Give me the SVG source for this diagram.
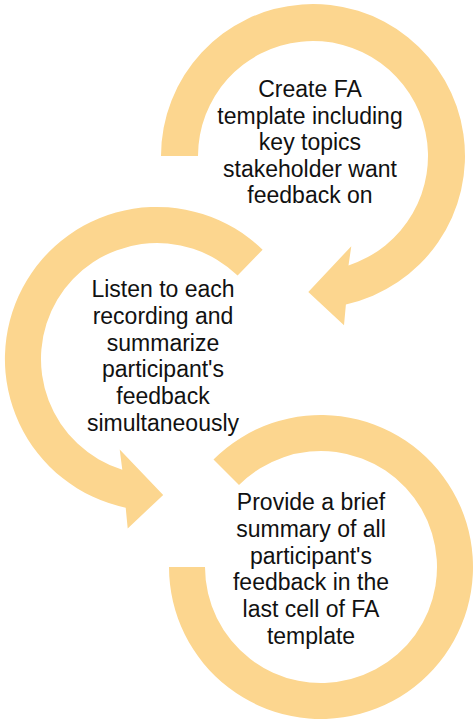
<svg xmlns="http://www.w3.org/2000/svg" width="474" height="721" viewBox="0 0 474 721">
<style>
.arc{fill:#FCD68F;stroke:none}
.lbl{font-family:"Liberation Sans",Arial,sans-serif;font-size:23px;fill:#111;text-anchor:middle}
</style>
<rect width="474" height="721" fill="#fff"/>
<g id="connectors">
<path id="arrow1" class="arc" d="M161,156 A152,152 0 1 1 345.9,304.4 L344,325.2 L308.3,291.9 L351.3,246.2 L348.5,265.4 A115,115 0 1 0 198,156 Z"/>
<path id="arrow2" class="arc" d="M262.6,249.7 A152,152 0 1 0 125.7,507.7 L127.7,528.5 L163.2,494.9 L119.7,449.6 L122.3,469.7 A116,116 0 1 1 237.6,275.6 Z"/>
<path id="arrow3" class="arc" d="M213.5,459.5 A152,152 0 1 1 169,567 L205,567 A116,116 0 1 0 239,485 Z"/>
</g>
<g id="node1">
<text class="lbl" x="310"><tspan x="310" y="97">Create FA</tspan><tspan x="310" y="123.5">template including</tspan><tspan x="310" y="150">key topics</tspan><tspan x="310" y="176.5">stakeholder want</tspan><tspan x="310" y="203">feedback on</tspan></text>
</g>
<g id="node2">
<text class="lbl" x="163"><tspan x="163" y="297">Listen to each</tspan><tspan x="163" y="324">recording and</tspan><tspan x="163" y="351">summarize</tspan><tspan x="163" y="377">participant's</tspan><tspan x="163" y="404">feedback</tspan><tspan x="163" y="431">simultaneously</tspan></text>
</g>
<g id="node3">
<text class="lbl" x="311"><tspan x="311" y="510">Provide a brief</tspan><tspan x="311" y="537">summary of all</tspan><tspan x="311" y="563.5">participant's</tspan><tspan x="311" y="590">feedback in the</tspan><tspan x="311" y="617">last cell of FA</tspan><tspan x="311" y="643.5">template</tspan></text>
</g>
</svg>
